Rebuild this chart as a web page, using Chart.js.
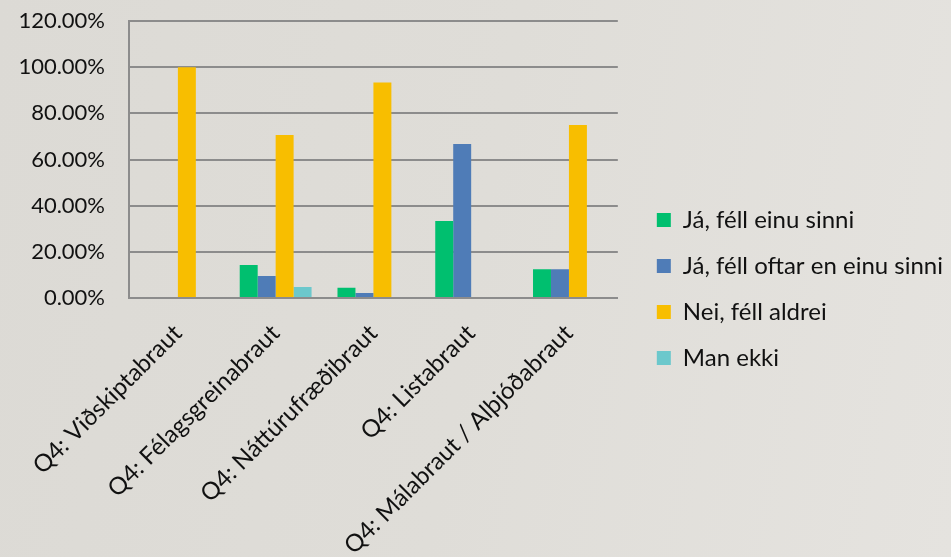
<!DOCTYPE html>
<html>
<head>
<meta charset="utf-8">
<script src="https://cdn.jsdelivr.net/npm/chart.js@4.4.0/dist/chart.umd.min.js"></script>
<style>
html,body{margin:0;padding:0;}
body{width:951px;height:557px;overflow:hidden;background:linear-gradient(100deg,#dcdad5 0%,#dfddd8 50%,#e5e3df 100%);}
#wrap{position:relative;width:951px;height:557px;}
</style>
</head>
<body>
<div id="wrap"><canvas id="c" width="951" height="557"></canvas></div>
<script>
const categories = ["Q4: Viðskiptabraut","Q4: Félagsgreinabraut","Q4: Náttúrufræðibraut","Q4: Listabraut","Q4: Málabraut / Alþjóðabraut"];
const seriesNames = ["Já, féll einu sinni","Já, féll oftar en einu sinni","Nei, féll aldrei","Man ekki"];
const felEinu = [0, 14.29, 4.44, 33.33, 12.5];
const felOftar = [0, 9.52, 2.22, 66.67, 12.5];
const aldrei = [100, 70.59, 93.33, 0, 75];
const manEkki = [0, 4.76, 0, 0, 0];
const yTicks = [0, 20, 40, 60, 80, 100, 120];
const colors = ["#00bf6f","#4f7cb7","#f8be00","#6cc8cc"];

const FONT = "Lato, 'Open Sans', sans-serif";
const TXT = "#111111";
const GRID = "#8c8c8c";

const legendShift = {
  id: 'legendShift',
  afterLayout(chart) {
    const l = chart.legend;
    if (l) { l.left += 17; l.right += 17; }
  }
};

new Chart(document.getElementById('c'), {
  type: 'bar',
  data: {
    labels: categories,
    datasets: [felEinu, felOftar, aldrei, manEkki].map((d,i)=>({
      label: seriesNames[i],
      data: d,
      backgroundColor: colors[i],
      borderWidth: 0,
      categoryPercentage: 0.735,
      barPercentage: 1.0
    }))
  },
  plugins: [legendShift],
  options: {
    responsive: false,
    animation: false,
    devicePixelRatio: 1,
    layout: { padding: { top: 21, right: 15, bottom: 0, left: 0 } },
    plugins: {
      tooltip: { enabled: false },
      legend: {
        position: 'right',
        align: 'center',
        maxWidth: 600,
        labels: {
          boxWidth: 14, boxHeight: 14, padding: 22,
          color: TXT,
          font: { family: FONT, size: 24 }
        }
      }
    },
    scales: {
      x: {
        grid: { display: false, drawTicks: false },
        border: { display: true, color: GRID, width: 2 },
        ticks: {
          color: TXT, font: { family: FONT, size: 24 },
          minRotation: 45, maxRotation: 45, padding: 21, autoSkip: false
        },
        afterFit: s => { s.height = 259; }
      },
      y: {
        min: 0, max: 120,
        afterBuildTicks: s => { s.ticks = yTicks.map(v => ({ value: v })); },
        grid: { color: GRID, lineWidth: 2, drawTicks: true, tickLength: 24, tickColor: 'rgba(0,0,0,0)' },
        border: { display: true, color: GRID, width: 2 },
        ticks: {
          color: TXT, font: { family: FONT, size: 22 }, padding: 0,
          callback: v => v.toFixed(2) + '%'
        },
        afterFit: s => { s.width = 129; }
      }
    }
  }
});
</script>
</body>
</html>
